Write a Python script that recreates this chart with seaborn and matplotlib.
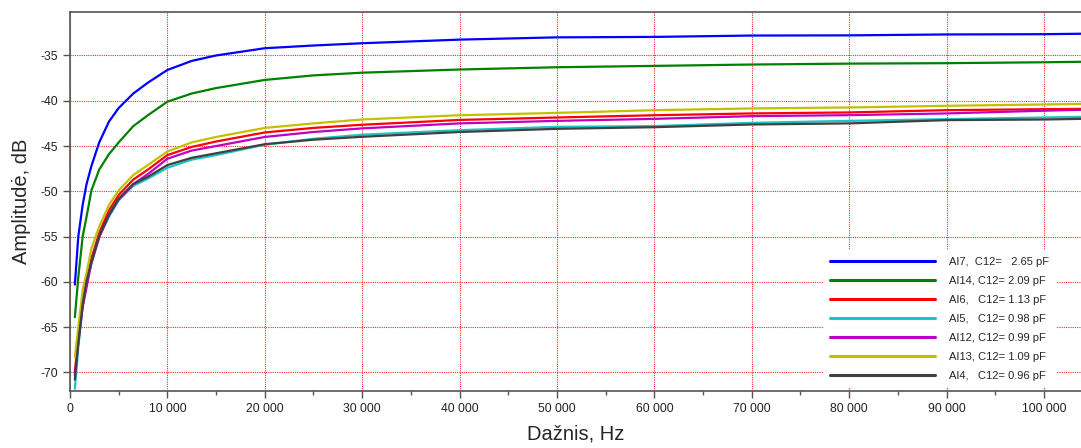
import matplotlib
matplotlib.use("Agg")
import matplotlib.pyplot as plt
from matplotlib.ticker import MultipleLocator, FuncFormatter
import seaborn as sns
import pandas as pd

# Frequency points (Hz) at which each response was sampled
freq_hz = [500, 850, 1300, 1700, 2200, 3000, 4000, 5000, 6500, 8000, 10000,
           12500, 15000, 20000, 25000, 30000, 40000, 50000, 60000, 70000,
           80000, 90000, 100000, 103800]

# Amplitude responses (dB) per sample
amp_al7 = [-60.3, -55.0, -51.5, -49.2, -47.2, -44.6, -42.3, -40.8, -39.2, -38.0, -36.6,
           -35.6, -35.0, -34.2, -33.9, -33.65, -33.25, -33.0, -32.95, -32.8,
           -32.78, -32.68, -32.65, -32.6]
amp_al14 = [-63.9, -59.5, -55.0, -52.8, -49.9, -47.6, -45.9, -44.6, -42.8, -41.6, -40.1,
            -39.2, -38.6, -37.7, -37.2, -36.9, -36.55, -36.3, -36.15, -36.0,
            -35.9, -35.85, -35.75, -35.7]
amp_al6 = [-69.9, -66.2, -62.3, -60.2, -57.4, -54.6, -52.1, -50.4, -48.7, -47.6, -46.0,
           -45.1, -44.5, -43.5, -43.0, -42.65, -42.12, -41.85, -41.6, -41.4,
           -41.29, -41.04, -40.93, -40.9]
amp_al5 = [-71.8, -67.2, -62.7, -60.0, -58.0, -55.0, -52.8, -51.0, -49.4, -48.6, -47.4,
           -46.5, -46.0, -44.85, -44.2, -43.75, -43.25, -42.88, -42.8, -42.44,
           -42.22, -42.03, -41.85, -41.78]
amp_al12 = [-70.3, -66.7, -62.8, -60.6, -57.9, -55.1, -52.6, -50.9, -49.2, -48.1, -46.4,
            -45.5, -45.0, -44.0, -43.45, -43.05, -42.5, -42.22, -42.0, -41.7,
            -41.59, -41.4, -41.1, -41.0]
amp_al13 = [-68.3, -65.0, -60.9, -59.0, -56.3, -53.9, -51.5, -49.9, -48.2, -47.1, -45.6,
            -44.6, -44.0, -43.0, -42.5, -42.07, -41.6, -41.34, -41.04, -40.85,
            -40.74, -40.56, -40.41, -40.35]
amp_al4 = [-70.8, -66.8, -62.5, -59.9, -57.8, -54.9, -52.6, -50.8, -49.2, -48.4, -47.1,
           -46.3, -45.8, -44.8, -44.3, -43.98, -43.45, -43.1, -42.92, -42.62,
           -42.5, -42.14, -42.07, -42.0]

series_labels = ["AI7,  C12=   2.65 pF", "AI14, C12= 2.09 pF", "AI6,   C12= 1.13 pF",
                 "AI5,   C12= 0.98 pF", "AI12, C12= 0.99 pF", "AI13, C12= 1.09 pF",
                 "AI4,   C12= 0.96 pF"]
series_values = [amp_al7, amp_al14, amp_al6, amp_al5, amp_al12, amp_al13, amp_al4]
series_colors = ["#0000ff", "#008000", "#ff0000", "#1cc4c4", "#c000c0", "#c4c000", "#404040"]

x_ticks = [0, 10000, 20000, 30000, 40000, 50000, 60000, 70000, 80000, 90000, 100000]
y_ticks = [-35, -40, -45, -50, -55, -60, -65, -70]

rows = []
for label, vals in zip(series_labels, series_values):
    for f, v in zip(freq_hz, vals):
        rows.append({"f": f, "amp": v, "series": label})
df = pd.DataFrame(rows)

sns.set_style("ticks")
plt.rcParams["font.family"] = ["Liberation Sans", "DejaVu Sans"]
plt.rcParams["axes.unicode_minus"] = False

fig = plt.figure(figsize=(10.81, 4.48), dpi=100)
ax = fig.add_axes([70 / 1081, 1 - 391 / 448, 1 - 70 / 1081, (391 - 12) / 448])

sns.lineplot(data=df, x="f", y="amp", hue="series", hue_order=series_labels,
             palette=series_colors, linewidth=1.6, ax=ax, legend=True)

ax.set_xlim(0, 103800)
ax.set_ylim(-72.05, -30.2)
ax.set_xticks(x_ticks)
ax.xaxis.set_minor_locator(MultipleLocator(5000))
ax.set_yticks(y_ticks)
ax.xaxis.set_major_formatter(FuncFormatter(lambda v, p: f"{int(v):,}".replace(",", " ")))
ax.yaxis.set_major_formatter(FuncFormatter(lambda v, p: f"{int(v)}"))

ax.grid(True, which="major", color="#ff0000", linestyle=(0, (1, 1)), linewidth=0.8, alpha=0.85)
ax.set_axisbelow(True)

for side in ["left", "bottom", "top"]:
    ax.spines[side].set_color("#555555")
    ax.spines[side].set_linewidth(1.2)
ax.spines["right"].set_visible(False)

ax.tick_params(axis="both", which="major", direction="out", length=5, width=1,
               color="#555555", labelsize=8.7, labelcolor="#222222")
ax.tick_params(axis="x", which="minor", direction="out", length=3, width=1, color="#555555")

ax.set_xlabel("Dažnis, Hz", fontsize=14.5, labelpad=7)
ax.set_ylabel("Amplitudė, dB", fontsize=14.5, labelpad=7)

leg = ax.legend(loc="lower right", bbox_to_anchor=(0.975, 0.008), borderaxespad=0,
                frameon=True, facecolor="white", edgecolor="none", framealpha=1,
                fontsize=8, handlelength=9.4, handletextpad=1.3, labelspacing=0.82,
                borderpad=0.6)
for line in leg.get_lines():
    line.set_linewidth(2.2)

fig.savefig("out.png", dpi=100)
